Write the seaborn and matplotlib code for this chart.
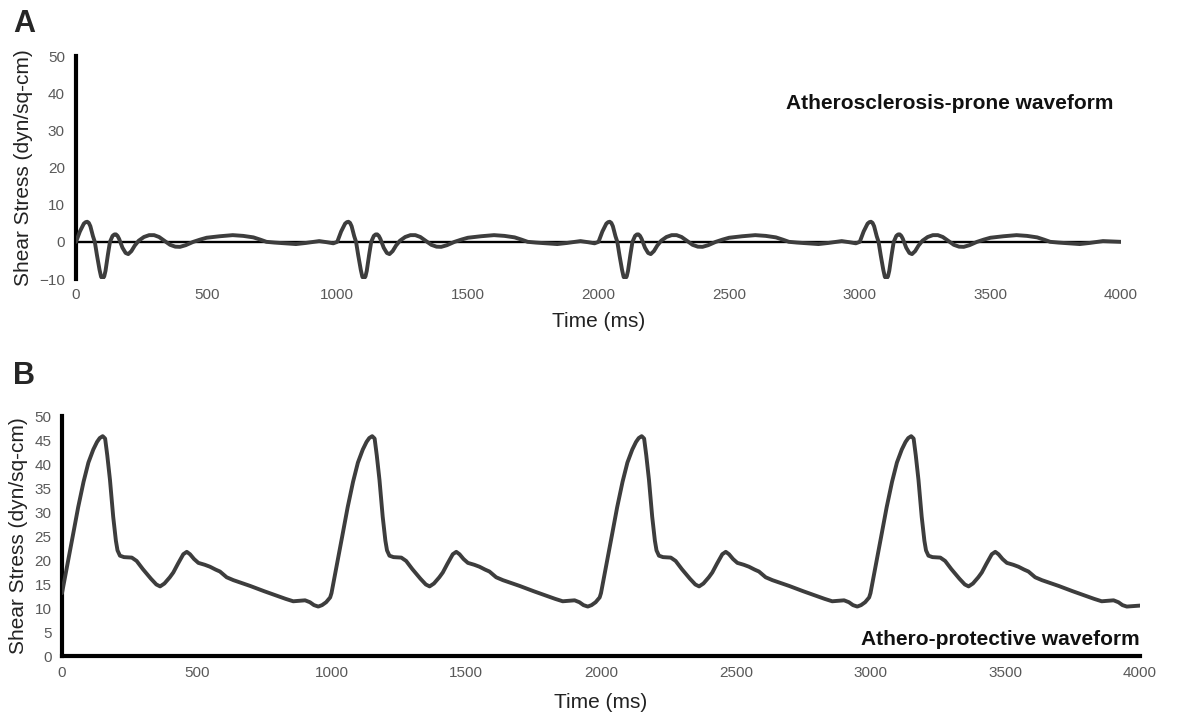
import numpy as np
import pandas as pd
import matplotlib
matplotlib.use("Agg")
import matplotlib.pyplot as plt
import seaborn as sns

# ---------------- data ----------------
cycle_starts_ms = [0, 1000, 2000, 3000]
last_cycle_end_ms = 3955   # the final cycle is cut short and ends in a flat tail

# Panel A: atherosclerosis-prone waveform, one 1000 ms cycle
prone_cycle_ms = [0, 15, 30, 37, 43, 49, 55, 65, 72, 80, 90, 96, 102, 108, 113, 122, 130,
                  140, 147, 153, 159, 165, 178, 190, 200, 212, 225, 240, 260, 280, 299,
                  318, 340, 360, 380, 398, 420, 449, 475, 500, 550, 600, 640, 679, 705,
                  729, 760, 800, 842, 880, 931, 960, 985]
prone_cycle_val = [0, 2.8, 4.9, 5.3, 5.4, 5.1, 4.2, 1.5, 0, -3.5, -7.5, -9.4, -9.9, -9.3,
                   -7.8, -3.5, 0, 1.6, 2.0, 2.0, 1.6, 0.8, -1.6, -3.0, -3.3, -2.5, -1.0,
                   0.3, 1.3, 1.8, 1.8, 1.3, 0.2, -0.8, -1.3, -1.35, -0.9, 0, 0.6, 1.1,
                   1.5, 1.8, 1.6, 1.2, 0.6, 0, -0.2, -0.4, -0.6, -0.3, 0.2, -0.1, -0.4]
prone_tail_ms = [4000]
prone_tail_val = [0]

# Panel B: athero-protective waveform, one 1000 ms cycle
protective_cycle_ms = [0, 20, 40, 60, 80, 98, 116, 130, 140, 151, 160, 168, 178, 190,
                       200, 206, 215, 230, 259, 277, 300, 330, 350, 364, 380, 400, 413,
                       430, 450, 463, 475, 490, 506, 530, 549, 570, 586, 611, 636, 698,
                       750, 800, 830, 858, 880, 902, 920, 935, 951, 965, 980, 995]
protective_cycle_val = [13.1, 19, 25, 31, 36.3, 40.3, 43.0, 44.6, 45.4, 45.8, 45.3, 41.8,
                        36.7, 29, 24, 22, 20.9, 20.6, 20.5, 19.8, 18.1, 16.1, 14.9, 14.5,
                        15.1, 16.4, 17.4, 19.2, 21.2, 21.7, 21.2, 20.2, 19.4, 19.0, 18.6,
                        18.0, 17.6, 16.4, 15.8, 14.6, 13.5, 12.5, 11.9, 11.4, 11.5, 11.6,
                        11.2, 10.6, 10.3, 10.6, 11.2, 12.2]
protective_tail_ms = [3975, 4000]
protective_tail_val = [10.4, 10.5]

x_ticks = [0, 500, 1000, 1500, 2000, 2500, 3000, 3500, 4000]
a_yticks = [-10, 0, 10, 20, 30, 40, 50]
b_yticks = [0, 5, 10, 15, 20, 25, 30, 35, 40, 45, 50]

title_a = "Atherosclerosis-prone waveform"
title_b = "Athero-protective waveform"
y_label = "Shear Stress (dyn/sq-cm)"
x_label = "Time (ms)"

# ---------------- build series ----------------
def build(cycle_ms, cycle_val, tail_ms, tail_val):
    t = []
    v = []
    for s in cycle_starts_ms:
        for c, y in zip(cycle_ms, cycle_val):
            if s + c <= last_cycle_end_ms:
                t.append(s + c)
                v.append(y)
    t.extend(tail_ms)
    v.extend(tail_val)
    return pd.DataFrame({"time": t, "stress": v})

df_a = build(prone_cycle_ms, prone_cycle_val, prone_tail_ms, prone_tail_val)
df_b = build(protective_cycle_ms, protective_cycle_val, protective_tail_ms, protective_tail_val)

# ---------------- style ----------------
sns.set_style("white")
plt.rcParams["font.family"] = ["Liberation Sans", "DejaVu Sans"]

W, H = 1178, 724
fig = plt.figure(figsize=(W / 100, H / 100), dpi=100)

line_color = "#3d3d3d"
tick_color = "#595959"

axA = fig.add_axes([76 / W, 1 - 279 / H, 1045 / W, 223 / H])
axB = fig.add_axes([62 / W, 1 - 656 / H, 1078 / W, 240 / H])

# Panel A
axA.axhline(0, color="black", lw=1.7, zorder=2)
sns.lineplot(data=df_a, x="time", y="stress", ax=axA, color=line_color, lw=2.8,
             estimator=None, sort=False, zorder=3)
axA.set_xlim(0, 4000)
axA.set_ylim(-10, 50)
axA.set_xticks(x_ticks)
axA.set_yticks(a_yticks)
for s in ["top", "right", "bottom"]:
    axA.spines[s].set_visible(False)
axA.spines["left"].set_linewidth(3)
axA.spines["left"].set_color("black")
axA.tick_params(axis="x", length=0, labelsize=11, labelcolor=tick_color, pad=6.5)
axA.tick_params(axis="y", length=0, labelsize=11, labelcolor=tick_color, pad=8)
axA.set_xlabel(x_label, fontsize=15, color="#222222")
axA.set_ylabel(y_label, fontsize=15, color="#222222")
axA.xaxis.set_label_coords(0.5, -0.1475)
axA.yaxis.set_label_coords(-0.0414, 0.5)
axA.text(3969, 35.7, title_a, ha="right", va="baseline", fontsize=15,
         fontweight="bold", color="#111111")

# Panel B
sns.lineplot(data=df_b, x="time", y="stress", ax=axB, color=line_color, lw=2.8,
             estimator=None, sort=False, zorder=3)
axB.set_xlim(0, 4000)
axB.set_ylim(0, 50)
axB.set_xticks(x_ticks)
axB.set_yticks(b_yticks)
for s in ["top", "right"]:
    axB.spines[s].set_visible(False)
for s in ["left", "bottom"]:
    axB.spines[s].set_linewidth(3)
    axB.spines[s].set_color("black")
axB.tick_params(axis="x", length=0, labelsize=11, labelcolor=tick_color, pad=7)
axB.tick_params(axis="y", length=0, labelsize=11, labelcolor=tick_color, pad=7.5)
axB.set_xlabel(x_label, fontsize=15, color="#222222")
axB.set_ylabel(y_label, fontsize=15, color="#222222")
axB.xaxis.set_label_coords(0.5, -0.154)
axB.yaxis.set_label_coords(-0.0312, 0.5)
axB.text(4000, 2.3, title_b, ha="right", va="baseline", fontsize=15,
         fontweight="bold", color="#111111")

for a in (axA, axB):
    a.patch.set_alpha(0)

# Panel letters
fig.text(13 / W, 1 - 32 / H, "A", fontsize=22, fontweight="bold", ha="left", va="baseline")
fig.text(13 / W, 1 - 384 / H, "B", fontsize=22, fontweight="bold", ha="left", va="baseline")

fig.savefig("out.png", dpi=100, facecolor="white")
